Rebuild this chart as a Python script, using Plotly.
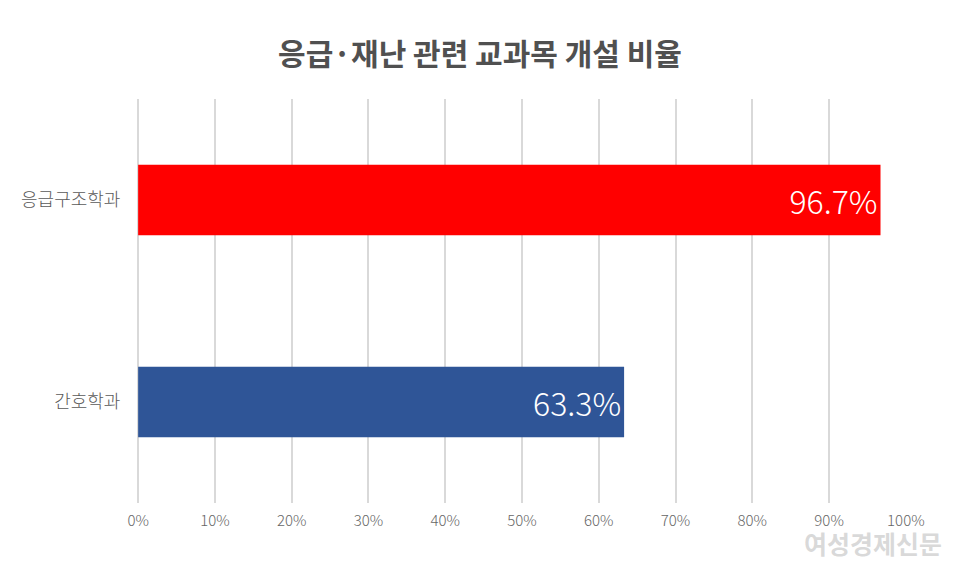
import plotly.graph_objects as go

# 데이터
departments = ["응급구조학과", "간호학과"]
ratios = [96.7, 63.3]
bar_colors = ["#FF0000", "#2F5597"]
tick_vals = [0, 10, 20, 30, 40, 50, 60, 70, 80, 90, 100]
tick_text = [f"{v}%" for v in tick_vals]

light_font = "Noto Sans CJK KR Light, Noto Sans CJK KR DemiLight, Noto Sans CJK KR"

fig = go.Figure()

fig.add_trace(go.Bar(
    x=ratios,
    y=departments,
    orientation="h",
    marker=dict(color=bar_colors, line=dict(width=0)),
    width=0.35,
    text=[f"{v}%" for v in ratios],
    textposition="inside",
    insidetextanchor="end",
    textfont=dict(color="white", size=32, family=light_font),
    hoverinfo="skip",
))

fig.update_layout(
    title=dict(
        text="<b>응급·재난 관련 교과목 개설 비율</b>",
        x=0.5, xanchor="center", y=0.905, yanchor="middle",
        font=dict(size=30, color="#505050", family="Noto Sans CJK KR"),
    ),
    width=960, height=572,
    margin=dict(l=138, r=54, t=99, b=69),
    plot_bgcolor="white",
    paper_bgcolor="white",
    showlegend=False,
    font=dict(family="Noto Sans CJK KR", color="#595959"),
    xaxis=dict(
        range=[-0.02, 100.02],
        tickvals=tick_vals,
        ticktext=tick_text,
        tickfont=dict(size=15, color="#666666", family=light_font),
        showgrid=True, gridcolor="#D9D9D9", gridwidth=1.5,
        zeroline=True, zerolinecolor="#D9D9D9", zerolinewidth=1.5,
        showline=False,
        ticks="outside", ticklen=4, tickcolor="white",
    ),
    yaxis=dict(
        autorange="reversed",
        tickfont=dict(size=18, color="#595959", family=light_font),
        showgrid=False, zeroline=False, showline=False,
        ticks="outside", ticklen=13, tickcolor="white",
    ),
)

# 워터마크
fig.add_annotation(
    text="<b>여성경제신문</b>", xref="paper", yref="paper",
    x=1.05, y=-0.05, xanchor="right", yanchor="top", showarrow=False,
    font=dict(size=25, color="rgba(185,185,185,0.55)", family="Noto Sans CJK KR"),
)

fig.write_html("out.html", config={"displayModeBar": False},
               post_script="document.body.style.margin='0';")
